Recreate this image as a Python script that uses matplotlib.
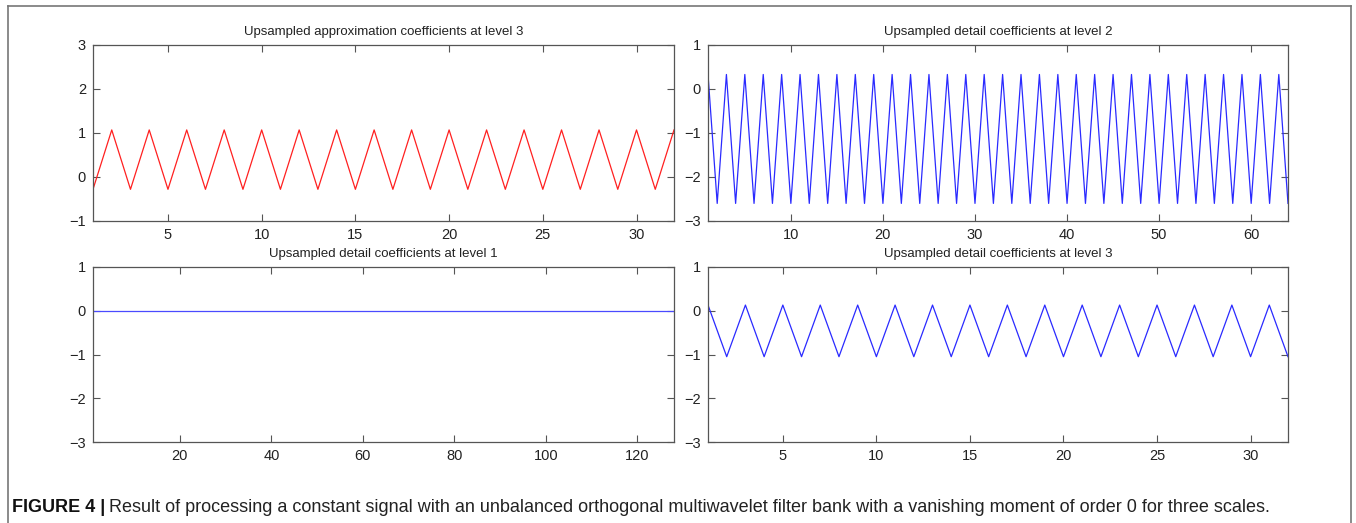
import matplotlib
matplotlib.use("Agg")
import matplotlib.pyplot as plt
import numpy as np
from matplotlib.lines import Line2D

FONT = ['Liberation Sans Narrow', 'Liberation Sans', 'DejaVu Sans']
plt.rcParams['font.family'] = FONT
plt.rcParams['axes.unicode_minus'] = True

# ---- data ----
approx3_peak, approx3_trough = 1.07, -0.28
approx3 = [approx3_trough if i % 2 == 0 else approx3_peak for i in range(32)]

detail2_peak, detail2_trough = 0.33, -2.6
detail2 = [detail2_peak if i % 2 == 0 else detail2_trough for i in range(64)]

detail1 = [0.0] * 128

detail3_peak, detail3_trough = 0.13, -1.05
detail3 = [detail3_peak if i % 2 == 0 else detail3_trough for i in range(32)]

titles = ["Upsampled approximation coefficients at level 3",
          "Upsampled detail coefficients at level 2",
          "Upsampled detail coefficients at level 1",
          "Upsampled detail coefficients at level 3"]
series = [approx3, detail2, detail1, detail3]
colors = ["#ff2020", "#2a2aff", "#4a4aff", "#2a2aff"]
xticks = [[5, 10, 15, 20, 25, 30],
          [10, 20, 30, 40, 50, 60],
          [20, 40, 60, 80, 100, 120],
          [5, 10, 15, 20, 25, 30]]
ylims = [(-1, 3), (-3, 1), (-3, 1), (-3, 1)]

W, H = 1356, 523
fig = plt.figure(figsize=(W / 100, H / 100), dpi=100)

def frac(l, t, r, b):
    return [l / W, 1 - b / H, (r - l) / W, (b - t) / H]

rects = [frac(93, 45, 674, 221), frac(708, 45, 1288, 221),
         frac(93, 267, 674, 442), frac(708, 267, 1288, 442)]

for rect, ttl, ys, c, xt, yl in zip(rects, titles, series, colors, xticks, ylims):
    ax = fig.add_axes(rect)
    x = np.arange(1, len(ys) + 1)
    ax.plot(x, ys, color=c, lw=0.9)
    ax.set_xlim(1, len(ys))
    ax.set_ylim(*yl)
    ax.set_xticks(xt)
    ax.set_yticks(range(yl[0], yl[1] + 1))
    ax.tick_params(direction='in', top=True, right=True, length=5, width=0.8,
                   color='#555555', labelsize=10.5, labelcolor='#222222', pad=5)
    for s in ax.spines.values():
        s.set_color('#555555')
        s.set_linewidth(0.9)
    ax.set_title(ttl, fontsize=9.5, color='#222222', pad=7)

# outer frame (open at bottom)
fc = '#777777'
fig.add_artist(Line2D([8 / W, 8 / W], [0, 1 - 6 / H], transform=fig.transFigure, color=fc, lw=1.2))
fig.add_artist(Line2D([8 / W, 1351 / W], [1 - 6 / H, 1 - 6 / H], transform=fig.transFigure, color=fc, lw=1.2))
fig.add_artist(Line2D([1351 / W, 1351 / W], [0, 1 - 6 / H], transform=fig.transFigure, color=fc, lw=1.2))

# caption
cy = 1 - 507 / H
t1 = fig.text(12 / W, cy, "FIGURE 4 |", fontsize=13, fontweight='bold', va='center', ha='left', color='#111111')
fig.canvas.draw()
bb = t1.get_window_extent()
fig.text((bb.x1 + 4) / W, cy,
         "Result of processing a constant signal with an unbalanced orthogonal multiwavelet filter bank with a vanishing moment of order 0 for three scales.",
         fontsize=13, va='center', ha='left', color='#222222')

fig.savefig("out.png", dpi=100)
